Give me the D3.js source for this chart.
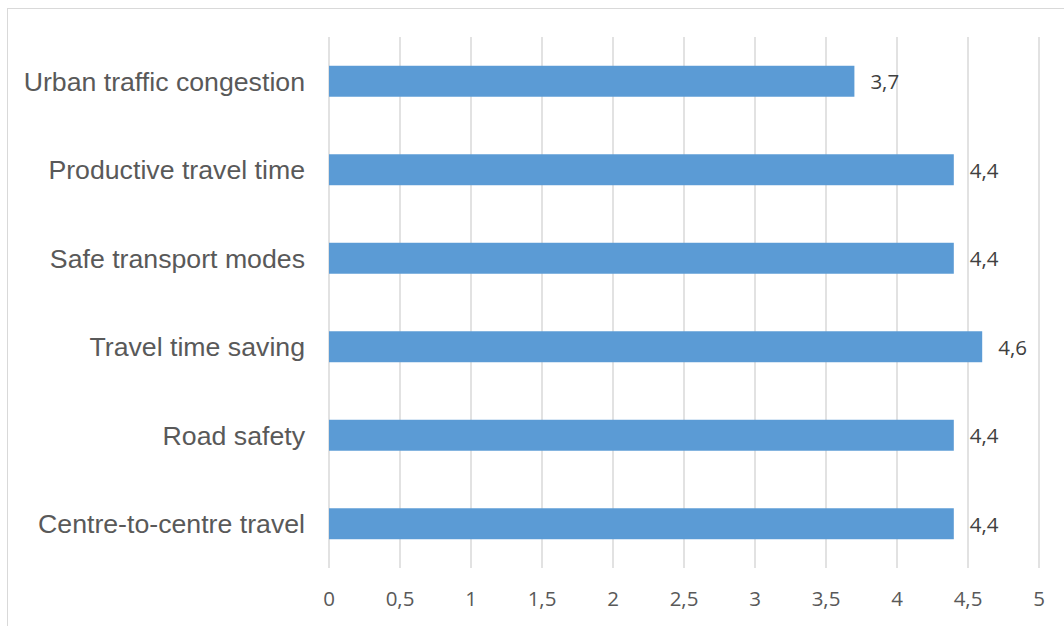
<!DOCTYPE html>
<html>
<head>
<meta charset="utf-8">
<style>
  body { margin: 0; background: #fff; }
  svg { display: block; }
</style>
</head>
<body>
<script src="https://cdn.jsdelivr.net/npm/d3@7"></script>
<script>

var categories = ["Urban traffic congestion", "Productive travel time", "Safe transport modes",
                  "Travel time saving", "Road safety", "Centre-to-centre travel"];
var values = [3.7, 4.4, 4.4, 4.6, 4.4, 4.4];
var ticks = [0, 0.5, 1, 1.5, 2, 2.5, 3, 3.5, 4, 4.5, 5];

var W = 1064, H = 626;
var fmt = v => String(v).replace(".", ",");

var svg = d3.select("body").append("svg")
    .attr("width", W)
    .attr("height", H);

// outer frame
svg.append("rect")
    .attr("x", 7.5).attr("y", 8.5)
    .attr("width", W + 10).attr("height", H + 10)
    .attr("fill", "none")
    .attr("stroke", "#d9d9d9");

var x = d3.scaleLinear().domain([0, 5]).range([329, 1039]);
var y = d3.scaleBand().domain(categories).range([37, 568])
    .paddingInner(0.65).paddingOuter(0.325);

// gridlines
svg.append("g").selectAll("line")
  .data(ticks)
  .join("line")
    .attr("x1", d => x(d)).attr("x2", d => x(d))
    .attr("y1", 37).attr("y2", 568)
    .attr("stroke", "#d9d9d9")
    .attr("stroke-width", 1.5);

// x tick labels
svg.append("g").selectAll("text")
  .data(ticks)
  .join("text")
    .attr("x", d => x(d))
    .attr("y", 606)
    .attr("text-anchor", "middle")
    .attr("font-family", "'Open Sans', sans-serif")
    .attr("font-size", 20.5)
    .attr("fill", "#595959")
    .text(fmt);

// bars
svg.append("g").selectAll("rect")
  .data(values)
  .join("rect")
    .attr("x", x(0))
    .attr("y", (d, i) => y(categories[i]))
    .attr("width", d => x(d) - x(0))
    .attr("height", y.bandwidth())
    .attr("fill", "#5b9bd5");

// value labels
svg.append("g").selectAll("text")
  .data(values)
  .join("text")
    .attr("x", d => x(d) + 16)
    .attr("y", (d, i) => y(categories[i]) + y.bandwidth() / 2 + 8)
    .attr("font-family", "'Open Sans', sans-serif")
    .attr("font-size", 20.5)
    .attr("fill", "#404040")
    .text(fmt);

// category labels
svg.append("g").selectAll("text")
  .data(categories)
  .join("text")
    .attr("x", 305)
    .attr("y", d => y(d) + y.bandwidth() / 2)
    .attr("dy", "0.35em")
    .attr("text-anchor", "end")
    .attr("font-family", "'Liberation Sans', Arial, sans-serif")
    .attr("font-size", 26.7)
    .attr("fill", "#595959")
    .text(d => d);

</script>
</body>
</html>
